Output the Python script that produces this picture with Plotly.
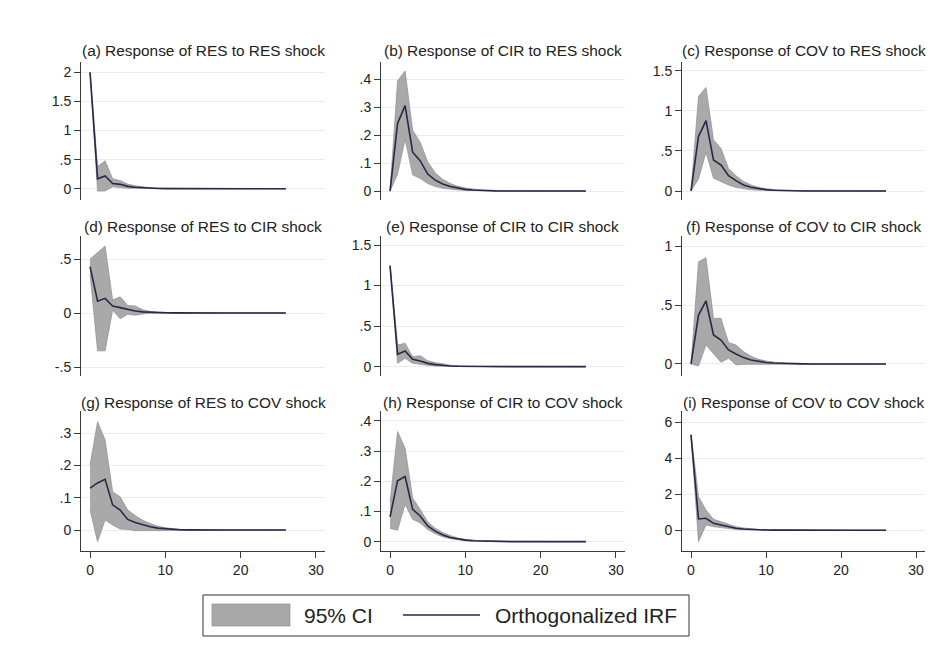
import plotly.graph_objects as go

# ---------------- data ----------------
steps = list(range(27))

irf_a = [2.0, 0.17, 0.22, 0.09, 0.075, 0.04, 0.025, 0.015, 0.008, 0.004, 0.002, 0.001, 0.0005, 0, 0, 0, 0, 0, 0, 0, 0, 0, 0, 0, 0, 0, 0]
hi_a = [2.01, 0.38, 0.48, 0.17, 0.14, 0.08, 0.05, 0.03, 0.016, 0.008, 0.004, 0.002, 0.001, 0, 0, 0, 0, 0, 0, 0, 0, 0, 0, 0, 0, 0, 0]
lo_a = [1.99, -0.04, -0.04, 0.035, 0.02, 0.01, 0.005, 0.002, 0.001, 0, 0, 0, 0, 0, 0, 0, 0, 0, 0, 0, 0, 0, 0, 0, 0, 0, 0]

irf_b = [0, 0.242, 0.306, 0.139, 0.109, 0.061, 0.039, 0.025, 0.016, 0.010, 0.006, 0.004, 0.002, 0.001, 0.0005, 0, 0, 0, 0, 0, 0, 0, 0, 0, 0, 0, 0]
hi_b = [0, 0.395, 0.43, 0.218, 0.175, 0.105, 0.065, 0.042, 0.027, 0.017, 0.011, 0.007, 0.004, 0.002, 0.001, 0, 0, 0, 0, 0, 0, 0, 0, 0, 0, 0, 0]
lo_b = [0, 0.06, 0.185, 0.058, 0.045, 0.027, 0.016, 0.010, 0.006, 0.004, 0.002, 0.001, 0, 0, 0, 0, 0, 0, 0, 0, 0, 0, 0, 0, 0, 0, 0]

irf_c = [0, 0.68, 0.877, 0.386, 0.324, 0.19, 0.13, 0.075, 0.046, 0.028, 0.017, 0.01, 0.006, 0.003, 0.002, 0.001, 0, 0, 0, 0, 0, 0, 0, 0, 0, 0, 0]
hi_c = [0, 1.18, 1.29, 0.64, 0.53, 0.28, 0.19, 0.12, 0.075, 0.045, 0.028, 0.017, 0.01, 0.006, 0.003, 0.002, 0.001, 0, 0, 0, 0, 0, 0, 0, 0, 0, 0]
lo_c = [0, 0.15, 0.48, 0.16, 0.115, 0.075, 0.045, 0.028, 0.015, 0.009, 0.005, 0.003, 0.001, 0, 0, 0, 0, 0, 0, 0, 0, 0, 0, 0, 0, 0, 0]

irf_d = [0.43, 0.11, 0.136, 0.065, 0.05, 0.031, 0.018, 0.011, 0.006, 0.003, 0.002, 0.001, 0, 0, 0, 0, 0, 0, 0, 0, 0, 0, 0, 0, 0, 0, 0]
hi_d = [0.5, 0.56, 0.62, 0.12, 0.15, 0.07, 0.065, 0.03, 0.015, 0.008, 0.004, 0.002, 0.001, 0, 0, 0, 0, 0, 0, 0, 0, 0, 0, 0, 0, 0, 0]
lo_d = [0.36, -0.35, -0.35, 0.028, -0.052, -0.012, -0.02, -0.008, -0.003, -0.001, 0, 0, 0, 0, 0, 0, 0, 0, 0, 0, 0, 0, 0, 0, 0, 0, 0]

irf_e = [1.245, 0.152, 0.193, 0.09, 0.07, 0.041, 0.025, 0.015, 0.009, 0.005, 0.003, 0.002, 0.001, 0, 0, 0, 0, 0, 0, 0, 0, 0, 0, 0, 0, 0, 0]
hi_e = [1.25, 0.267, 0.288, 0.123, 0.136, 0.074, 0.05, 0.03, 0.018, 0.01, 0.006, 0.003, 0.002, 0.001, 0, 0, 0, 0, 0, 0, 0, 0, 0, 0, 0, 0, 0]
lo_e = [1.24, 0.041, 0.103, 0.041, 0.029, 0.016, 0.008, 0.004, 0.002, 0.001, 0, 0, 0, 0, 0, 0, 0, 0, 0, 0, 0, 0, 0, 0, 0, 0, 0]

irf_f = [0, 0.415, 0.534, 0.246, 0.203, 0.119, 0.085, 0.054, 0.034, 0.021, 0.013, 0.008, 0.005, 0.003, 0.002, 0.001, 0, 0, 0, 0, 0, 0, 0, 0, 0, 0, 0]
hi_f = [0, 0.867, 0.901, 0.387, 0.387, 0.181, 0.161, 0.105, 0.065, 0.04, 0.025, 0.015, 0.009, 0.005, 0.003, 0.002, 0.001, 0, 0, 0, 0, 0, 0, 0, 0, 0, 0]
lo_f = [0, -0.017, 0.161, 0.09, 0.014, 0.048, -0.008, -0.003, 0, 0.001, 0.001, 0, 0, 0, 0, 0, 0, 0, 0, 0, 0, 0, 0, 0, 0, 0, 0]

irf_g = [0.13, 0.146, 0.157, 0.078, 0.062, 0.033, 0.023, 0.0155, 0.01, 0.006, 0.004, 0.002, 0.001, 0.0005, 0, 0, 0, 0, 0, 0, 0, 0, 0, 0, 0, 0, 0]
hi_g = [0.202, 0.336, 0.279, 0.119, 0.103, 0.062, 0.045, 0.03, 0.02, 0.012, 0.007, 0.004, 0.002, 0.001, 0, 0, 0, 0, 0, 0, 0, 0, 0, 0, 0, 0, 0]
lo_g = [0.062, -0.036, 0.031, 0.0155, 0.003, 0.002, -0.002, -0.001, 0, 0, 0, 0, 0, 0, 0, 0, 0, 0, 0, 0, 0, 0, 0, 0, 0, 0, 0]

irf_h = [0.082, 0.202, 0.216, 0.107, 0.085, 0.052, 0.035, 0.022, 0.014, 0.009, 0.005, 0.003, 0.002, 0.001, 0, 0, 0, 0, 0, 0, 0, 0, 0, 0, 0, 0, 0]
hi_h = [0.13, 0.365, 0.31, 0.145, 0.107, 0.066, 0.044, 0.03, 0.02, 0.012, 0.008, 0.005, 0.003, 0.002, 0.001, 0, 0, 0, 0, 0, 0, 0, 0, 0, 0, 0, 0]
lo_h = [0.044, 0.038, 0.123, 0.074, 0.062, 0.04, 0.026, 0.016, 0.01, 0.006, 0.003, 0.002, 0.001, 0, 0, 0, 0, 0, 0, 0, 0, 0, 0, 0, 0, 0, 0]

irf_i = [5.3, 0.63, 0.67, 0.39, 0.3, 0.185, 0.11, 0.07, 0.04, 0.025, 0.015, 0.009, 0.005, 0.003, 0.002, 0.001, 0, 0, 0, 0, 0, 0, 0, 0, 0, 0, 0]
hi_i = [5.35, 1.87, 1.13, 0.61, 0.48, 0.33, 0.2, 0.13, 0.08, 0.05, 0.03, 0.018, 0.01, 0.006, 0.003, 0.002, 0.001, 0, 0, 0, 0, 0, 0, 0, 0, 0, 0]
lo_i = [5.25, -0.63, 0.3, 0.2, 0.15, 0.08, 0.05, 0.03, 0.015, 0.008, 0.004, 0.002, 0.001, 0, 0, 0, 0, 0, 0, 0, 0, 0, 0, 0, 0, 0, 0]

titles = [
    "(a) Response of RES to RES shock", "(b) Response of CIR to RES shock", "(c) Response of COV to RES shock",
    "(d) Response of RES to CIR shock", "(e) Response of CIR to CIR shock", "(f) Response of COV to CIR shock",
    "(g) Response of RES to COV shock", "(h) Response of CIR to COV shock", "(i) Response of COV to COV shock",
]

ytick_vals = [
    [0, 0.5, 1, 1.5, 2], [0, 0.1, 0.2, 0.3, 0.4], [0, 0.5, 1, 1.5],
    [-0.5, 0, 0.5], [0, 0.5, 1, 1.5], [0, 0.5, 1],
    [0, 0.1, 0.2, 0.3], [0, 0.1, 0.2, 0.3, 0.4], [0, 2, 4, 6],
]
ytick_text = [
    ["0", ".5", "1", "1.5", "2"], ["0", ".1", ".2", ".3", ".4"], ["0", ".5", "1", "1.5"],
    ["-.5", "0", ".5"], ["0", ".5", "1", "1.5"], ["0", ".5", "1"],
    ["0", ".1", ".2", ".3"], ["0", ".1", ".2", ".3", ".4"], ["0", "2", "4", "6"],
]
xtick_vals = [0, 10, 20, 30]
xtick_text = ["0", "10", "20", "30"]

legend_labels = ["95% CI", "Orthogonalized IRF"]

irfs = [irf_a, irf_b, irf_c, irf_d, irf_e, irf_f, irf_g, irf_h, irf_i]
his = [hi_a, hi_b, hi_c, hi_d, hi_e, hi_f, hi_g, hi_h, hi_i]
los = [lo_a, lo_b, lo_c, lo_d, lo_e, lo_f, lo_g, lo_h, lo_i]

# ---------------- layout geometry (pixels) ----------------
W, H = 944, 657
col_px = [(81, 325), (381, 625), (682, 925)]
row_px = [(62, 200), (236, 376), (411, 551)]
title_y_px = [51, 227, 402]
y_ranges = [
    [-0.194, 2.177], [-0.032, 0.462], [-0.112, 1.608],
    [-0.583, 0.713], [-0.115, 1.611], [-0.102, 1.085],
    [-0.065, 0.369], [-0.031, 0.433], [-1.15, 6.63],
]
x_range = [-1.2, 31.2]

FONT = "Liberation Sans, Arial, sans-serif"
BAND = "#a9a9a9"
BAND_EDGE = "#8e8e8e"
LINE = "#242a48"
AXIS = "#3a3a3a"
GRID = "#ebebeb"

fig = go.Figure()
layout = dict(
    width=W, height=H, margin=dict(l=0, r=0, t=0, b=0),
    paper_bgcolor="white", plot_bgcolor="white",
    showlegend=False, font=dict(family=FONT, color="#222222"),
)
annotations = []
shapes = []

for k in range(9):
    r, c = divmod(k, 3)
    sfx = "" if k == 0 else str(k + 1)
    xa, ya = "x" + sfx, "y" + sfx
    fig.add_trace(go.Scatter(
        x=steps + steps[::-1], y=his[k] + los[k][::-1],
        fill="toself", fillcolor=BAND, line=dict(color=BAND_EDGE, width=0.7),
        mode="lines", xaxis=xa, yaxis=ya, hoverinfo="skip", name=legend_labels[0],
    ))
    fig.add_trace(go.Scatter(
        x=steps, y=irfs[k], mode="lines", line=dict(color=LINE, width=1.6),
        xaxis=xa, yaxis=ya, name=legend_labels[1],
    ))
    x0, x1 = col_px[c]
    y0, y1 = row_px[r]
    bottom = (r == 2)
    layout["xaxis" + sfx] = dict(
        domain=[x0 / W, x1 / W], range=x_range, anchor=ya,
        showgrid=False, zeroline=False,
        showline=bottom, linecolor=AXIS, linewidth=1,
        ticks="outside" if bottom else "", ticklen=6, tickcolor=AXIS,
        tickvals=xtick_vals, ticktext=xtick_text, showticklabels=bottom,
        tickfont=dict(size=14, family=FONT, color="#222222"),
    )
    layout["yaxis" + sfx] = dict(
        domain=[1 - y1 / H, 1 - y0 / H], range=y_ranges[k], anchor=xa,
        showgrid=True, gridcolor=GRID, gridwidth=1, zeroline=False,
        showline=True, linecolor=AXIS, linewidth=1,
        ticks="outside", ticklen=6, tickcolor=AXIS,
        tickvals=ytick_vals[k], ticktext=ytick_text[k],
        tickfont=dict(size=14, family=FONT, color="#222222"),
    )
    annotations.append(dict(
        x=(x0 + x1) / 2 / W, y=1 - title_y_px[r] / H, xref="paper", yref="paper",
        text=titles[k], showarrow=False, xanchor="center", yanchor="middle",
        font=dict(size=15.4, family=FONT, color="#222222"),
    ))

# legend drawn as a boxed key
def px(xp, yp):
    return xp / W, 1 - yp / H

bx0, by0 = px(203, 595)
bx1, by1 = px(689, 636)
shapes.append(dict(type="rect", xref="paper", yref="paper", x0=bx0, y0=by1, x1=bx1, y1=by0,
                   line=dict(color="#333333", width=1), fillcolor="white"))
p0 = px(212, 604); p1 = px(290, 626)
shapes.append(dict(type="rect", xref="paper", yref="paper", x0=p0[0], y0=p1[1], x1=p1[0], y1=p0[1],
                   line=dict(color=BAND_EDGE, width=0.7), fillcolor=BAND))
l0 = px(403, 615); l1 = px(480, 615)
shapes.append(dict(type="line", xref="paper", yref="paper", x0=l0[0], y0=l0[1], x1=l1[0], y1=l1[1],
                   line=dict(color=LINE, width=1.6)))
t1 = px(302, 615)
annotations.append(dict(x=t1[0], y=t1[1], xref="paper", yref="paper", text=legend_labels[0],
                        showarrow=False, xanchor="left", yanchor="middle",
                        font=dict(size=21, family=FONT, color="#222222")))
t2 = px(493, 615)
annotations.append(dict(x=t2[0], y=t2[1], xref="paper", yref="paper", text=legend_labels[1],
                        showarrow=False, xanchor="left", yanchor="middle",
                        font=dict(size=21, family=FONT, color="#222222")))

layout["annotations"] = annotations
layout["shapes"] = shapes
fig.update_layout(**layout)
fig.write_html("out.html")
